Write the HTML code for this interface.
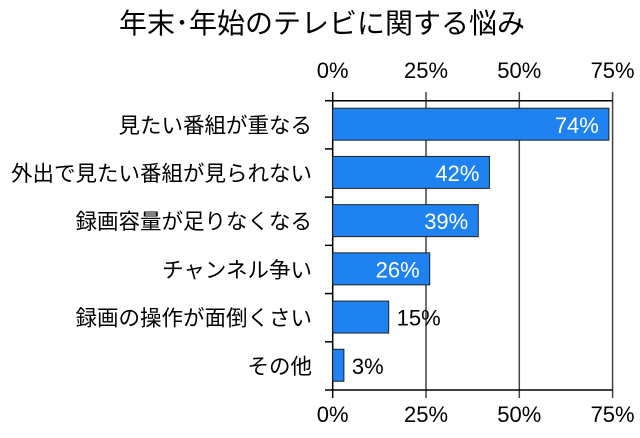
<!DOCTYPE html>
<html><head><meta charset="utf-8"><style>
body{margin:0;background:#fff;}
svg text{font-family:"Liberation Sans","Noto Sans CJK JP",sans-serif;}
</style></head><body>
<svg width="640" height="433" xmlns="http://www.w3.org/2000/svg">
<text x="322" y="33" text-anchor="middle" font-size="28" fill="#000">年末･年始のテレビに関する悩み</text>
<g id="g"></g>
</svg>
<script>
const categories=["見たい番組が重なる","外出で見たい番組が見られない","録画容量が足りなくなる","チャンネル争い","録画の操作が面倒くさい","その他"];
const values=[74,42,39,26,15,3];
const tickValues=[0,25,50,75];
const tickLabels=["0%","25%","50%","75%"];
const X0=332.7,PX=93.3/25,TOP=100.7,BOT=390;
const band=(BOT-TOP)/categories.length;
const xs=v=>X0+v*PX;
const ns="http://www.w3.org/2000/svg";
const g=document.getElementById('g');
function mk(t,a){const e=document.createElementNS(ns,t);for(const k in a)e.setAttribute(k,a[k]);g.appendChild(e);return e;}
tickValues.forEach((t,i)=>{
 const l=mk('line',{x1:xs(t),x2:xs(t),y1:92,y2:398,stroke:i==0?'#000':'#444','stroke-width':1.5});
 
 
 [78,422].forEach((y,j)=>{
  const tx=mk('text',{x:xs(t),y:y,'text-anchor':'middle','font-size':22,fill:'#000'});
  tx.textContent=tickLabels[i];
  
  
 });
});
[TOP,BOT].forEach(y=>{const l=mk('line',{x1:X0,x2:xs(75),y1:y,y2:y,stroke:'#000','stroke-width':1.5});
 
 });
for(let i=0;i<=categories.length;i++){const y=TOP+i*band;const l=mk('line',{x1:325,x2:X0,y1:y,y2:y,stroke:'#000','stroke-width':1.5});
 
 }
categories.forEach((c,i)=>{
 const y=TOP+i*band;
 const r=mk('rect',{x:X0,y:y+7.5,width:xs(values[i])-X0,height:32,fill:'#1e82f0',stroke:'#222','stroke-width':1});
 
 
 const lb=mk('text',{x:312,y:y+band/2+8,'text-anchor':'end','font-size':21.5,fill:'#000'});
 lb.textContent=c;
 
 
 const inside=values[i]>=20;
 const vt=mk('text',{x:inside?xs(values[i])-10:xs(values[i])+8,y:y+band/2+8,'text-anchor':inside?'end':'start','font-size':22,fill:inside?'#fff':'#000'});
 vt.textContent=values[i]+'%';
 
 
});
</script>
</body></html>
